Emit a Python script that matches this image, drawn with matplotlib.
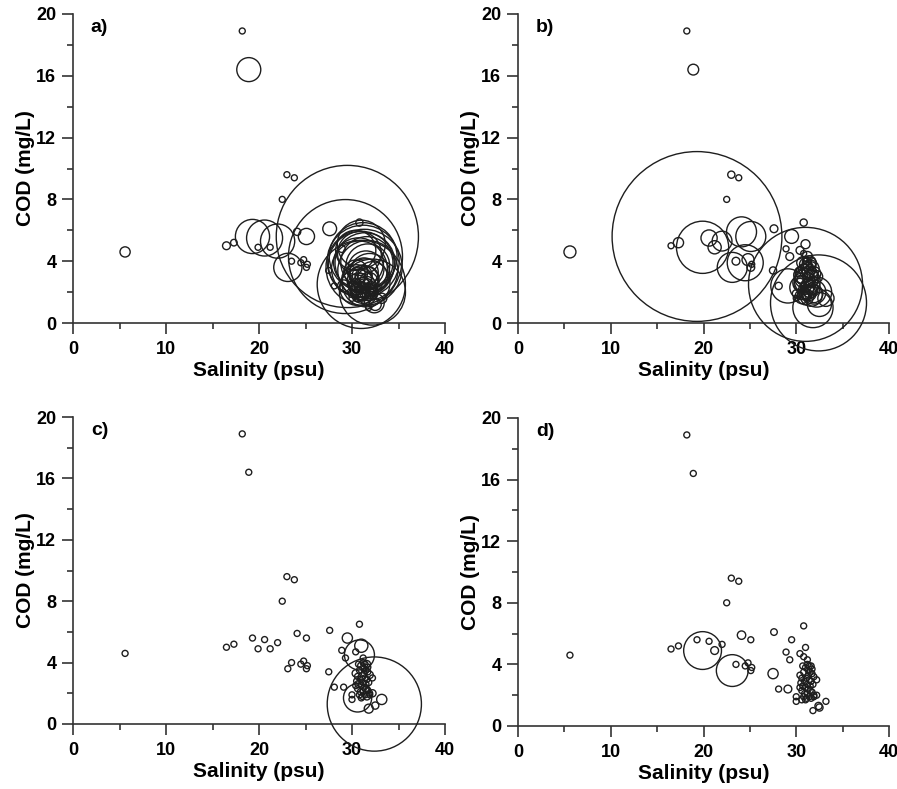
import matplotlib
matplotlib.use("Agg")
import matplotlib.pyplot as plt
from matplotlib.ticker import MultipleLocator
import numpy as np

plt.rcParams['font.family'] = ['Liberation Sans', 'DejaVu Sans']
plt.rcParams['font.weight'] = 'bold'

# ---- data: salinity (psu) and COD (mg/L) of each sample ----
salinity = [5.6, 18.2, 18.9, 23.0, 23.8, 22.5, 16.5, 17.3, 19.3, 20.6,
            21.2, 22.0, 19.9, 24.1, 25.1, 23.5, 23.1, 24.8, 24.5, 25.2,
            25.1, 27.5, 28.1, 27.6, 30.8, 29.5, 28.9, 29.3, 29.1, 30.4,
            31.0, 30.8, 30.0, 30.0, 31.8, 32.4, 32.5, 33.2, 32.2, 32.2,
            30.4, 30.6, 30.5, 30.7, 30.4, 30.6, 30.9, 30.8, 31.0, 31.2,
            31.4, 31.6, 31.7, 31.5, 31.3, 31.1, 31.4, 31.6, 31.8, 31.2,
            31.0, 31.3, 31.5, 31.7, 31.9, 31.2, 31.4, 31.6, 31.1, 31.0,
            30.8, 31.5, 31.9, 31.9, 31.3, 30.9, 31.7, 30.7, 31.2, 30.6]
cod = [4.6, 18.9, 16.4, 9.6, 9.4, 8.0, 5.0, 5.2, 5.6, 5.5,
       4.9, 5.3, 4.9, 5.9, 5.6, 4.0, 3.6, 4.1, 3.9, 3.8,
       3.6, 3.4, 2.4, 6.1, 6.5, 5.6, 4.8, 4.3, 2.4, 4.7,
       5.1, 4.5, 1.9, 1.6, 1.0, 1.3, 1.2, 1.6, 3.0, 2.0,
       3.3, 3.1, 2.8, 2.6, 2.5, 2.3, 2.1, 3.5, 3.8, 4.0,
       3.9, 3.9, 3.7, 3.5, 3.3, 3.1, 3.0, 2.9, 2.7, 2.7,
       2.5, 2.4, 2.3, 2.2, 2.0, 2.1, 1.9, 1.8, 1.8, 1.7,
       1.9, 2.6, 3.2, 1.9, 3.6, 2.9, 3.4, 3.9, 4.3, 1.7]

# ---- bubble values (relative bubble radius, 1 = smallest) for each panel ----
bubble_a = [1.7, 1.0, 4.0, 1.0, 1.0, 1.0, 1.3, 1.1, 5.7, 6.0,
            1.0, 5.7, 1.0, 1.2, 2.7, 1.0, 4.7, 1.0, 1.0, 1.0,
            1.0, 1.0, 1.0, 2.3, 1.2, 23.7, 1.2, 19.0, 2.0, 6.7,
            8.0, 7.3, 1.3, 1.0, 1.0, 3.3, 2.0, 1.7, 5.0, 11.0,
            4.0, 2.7, 5.0, 3.3, 2.0, 6.0, 3.0, 9.3, 11.0, 12.0,
            10.0, 8.7, 7.3, 6.0, 4.7, 3.3, 2.3, 4.0, 3.0, 5.3,
            14.7, 2.3, 3.7, 2.0, 2.7, 4.3, 1.7, 3.0, 2.0, 1.3,
            2.3, 8.0, 6.7, 1.7, 12.7, 1.7, 10.0, 8.3, 11.3, 1.7]
bubble_b = [2.0, 1.0, 1.8, 1.2, 1.0, 1.0, 1.0, 1.7, 28.3, 2.7,
            2.2, 3.3, 8.7, 5.0, 5.0, 1.3, 5.0, 2.0, 6.0, 1.0,
            1.3, 1.2, 1.2, 1.3, 1.2, 2.3, 1.0, 1.3, 5.7, 1.3,
            1.5, 1.0, 1.3, 1.0, 6.7, 16.0, 4.0, 2.7, 2.0, 5.0,
            1.7, 2.7, 1.3, 3.3, 2.0, 4.0, 1.3, 1.7, 2.0, 1.3,
            2.3, 1.7, 1.3, 3.0, 2.0, 3.7, 1.3, 2.7, 1.7, 4.3,
            19.0, 2.3, 3.3, 2.0, 4.0, 3.0, 2.3, 3.7, 1.7, 2.7,
            2.0, 1.3, 2.3, 3.0, 1.7, 3.3, 1.3, 2.0, 1.7, 2.3]
bubble_c = [1.0, 1.0, 1.0, 1.0, 1.0, 1.0, 1.0, 1.0, 1.0, 1.0,
            1.0, 1.0, 1.0, 1.0, 1.0, 1.0, 1.0, 1.0, 1.0, 1.0,
            1.0, 1.0, 1.0, 1.0, 1.0, 1.7, 1.0, 1.0, 1.0, 1.0,
            2.2, 5.0, 1.0, 1.0, 1.5, 15.7, 1.2, 1.7, 1.0, 1.2,
            1.2, 1.0, 1.0, 1.2, 1.0, 1.0, 1.0, 1.0, 1.2, 1.0,
            1.0, 1.2, 1.0, 1.0, 1.0, 1.2, 1.0, 1.0, 1.0, 1.0,
            1.0, 1.0, 1.2, 1.0, 1.0, 1.0, 1.0, 1.2, 1.0, 1.0,
            1.0, 1.0, 1.2, 1.0, 1.0, 1.0, 1.0, 1.0, 1.0, 4.7]
bubble_d = [1.0, 1.0, 1.0, 1.0, 1.0, 1.0, 1.0, 1.0, 1.0, 1.0,
            1.3, 1.0, 6.3, 1.4, 1.0, 1.0, 5.3, 1.0, 1.0, 1.0,
            1.0, 1.7, 1.0, 1.1, 1.0, 1.0, 1.0, 1.0, 1.3, 1.0,
            1.0, 1.0, 1.0, 1.0, 1.0, 1.2, 1.2, 1.0, 1.0, 1.0,
            1.0, 1.0, 1.0, 1.0, 1.0, 1.0, 1.0, 1.0, 1.0, 1.0,
            1.0, 1.0, 1.0, 1.0, 1.0, 1.0, 1.0, 1.0, 1.0, 1.0,
            1.0, 1.0, 1.0, 1.0, 1.0, 1.0, 1.0, 1.0, 1.0, 1.0,
            1.0, 1.0, 1.0, 1.0, 1.0, 1.0, 1.0, 1.0, 1.0, 1.0]

panel_labels = ['a)', 'b)', 'c)', 'd)']
x_ticks = [0, 10, 20, 30, 40]
y_ticks = [0, 4, 8, 12, 16, 20]

DPI = 100
W, H = 897, 789
fig = plt.figure(figsize=(W / DPI, H / DPI), dpi=DPI)

# axes boxes in pixels: (left, top, right, bottom)
boxes = [(73, 14, 445, 323), (518, 14, 889, 323),
         (73, 417, 445, 724), (518, 418, 889, 726)]
bubbles = [bubble_a, bubble_b, bubble_c, bubble_d]
ink = '#1e1e1e'
px_per_unit = 3.0  # bubble radius in pixels per unit value

for box, bub, lab in zip(boxes, bubbles, panel_labels):
    l, t, r, b = box
    ax = fig.add_axes([l / W, 1 - b / H, (r - l) / W, (b - t) / H])
    ax.set_xlim(0, 40)
    ax.set_ylim(0, 20)
    rad_px = np.asarray(bub) * px_per_unit
    diam_pt = 2 * rad_px * 72.0 / DPI
    order = np.argsort(-rad_px)
    ax.scatter(np.asarray(salinity)[order], np.asarray(cod)[order],
               s=(diam_pt[order]) ** 2, facecolors='none', edgecolors=ink,
               linewidths=1.0, clip_on=False, zorder=3)
    for side in ['top', 'right']:
        ax.spines[side].set_visible(False)
    for side in ['left', 'bottom']:
        ax.spines[side].set_linewidth(1.2)
        ax.spines[side].set_color('#333333')
    ax.set_xticks(x_ticks)
    ax.set_yticks(y_ticks)
    ax.xaxis.set_minor_locator(MultipleLocator(5))
    ax.yaxis.set_minor_locator(MultipleLocator(2))
    ax.tick_params(which='major', direction='out', length=8, width=1.2,
                   color='#333333', labelsize=13)
    ax.tick_params(which='minor', direction='out', length=4.5, width=1.2,
                   color='#333333')
    ax.tick_params(axis='x', pad=5)
    ax.tick_params(axis='y', pad=4)
    for tl in ax.get_xticklabels() + ax.get_yticklabels():
        tl.set_fontweight('bold')
    ax.set_xlabel('Salinity (psu)', fontsize=15, fontweight='bold', labelpad=2)
    ax.set_ylabel('COD (mg/L)', fontsize=15, fontweight='bold', labelpad=1)
    ax.text(0.048, 0.955, lab, transform=ax.transAxes, fontsize=14,
            fontweight='bold', va='center', ha='left')

fig.savefig('out.png', dpi=DPI)
